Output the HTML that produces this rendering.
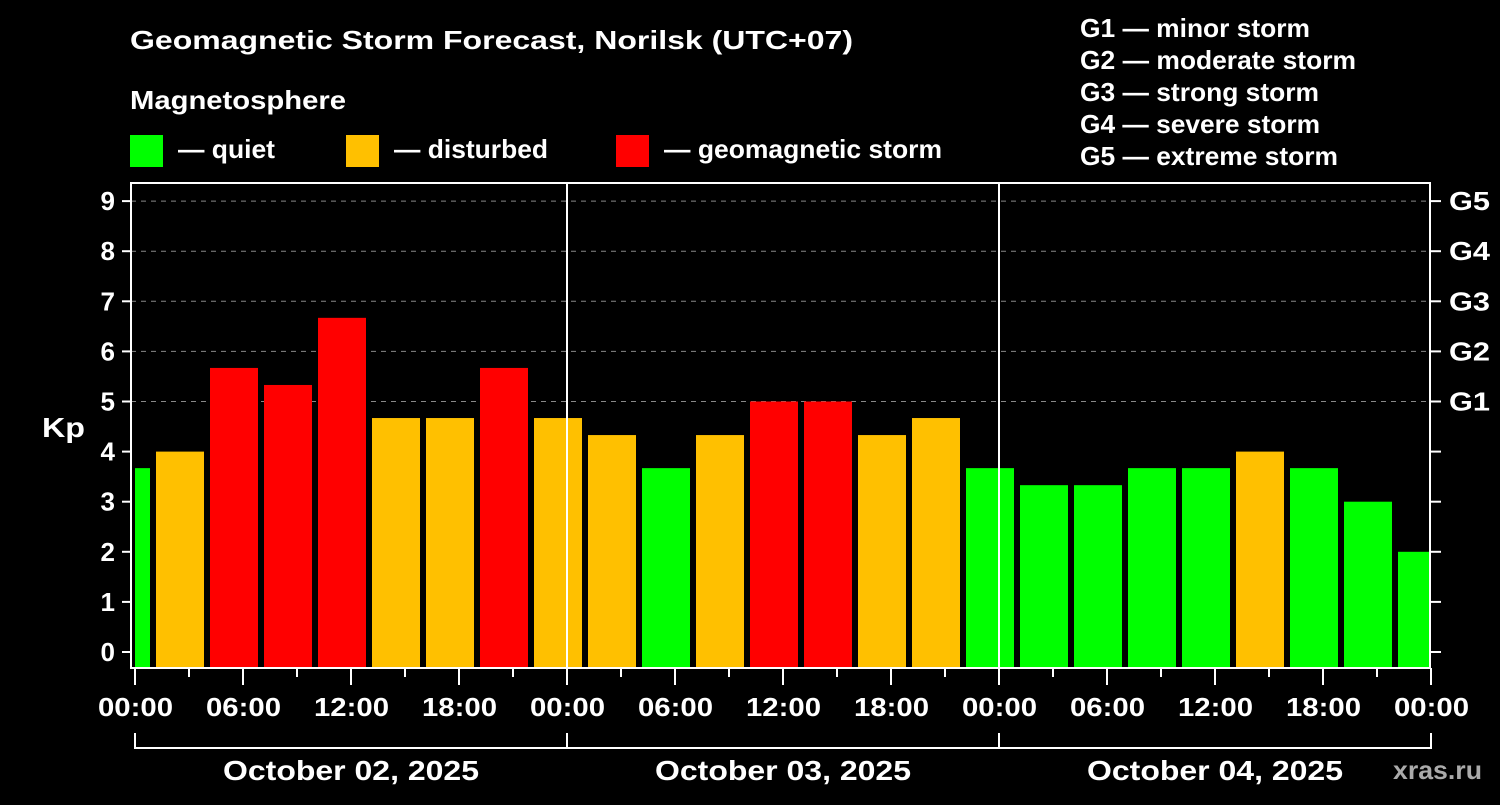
<!DOCTYPE html>
<html><head><meta charset="utf-8"><style>
html,body{margin:0;padding:0;background:#000;}
svg text{font-family:"Liberation Sans",sans-serif;font-weight:bold;fill:#fff;}
</style></head><body>
<svg id="c" width="1500" height="800" xmlns="http://www.w3.org/2000/svg">
<text x="130" y="49" font-size="26" textLength="723" lengthAdjust="spacingAndGlyphs">Geomagnetic Storm Forecast, Norilsk (UTC+07)</text>
<text x="130" y="109" font-size="26" textLength="216" lengthAdjust="spacingAndGlyphs">Magnetosphere</text>
<rect x="130" y="135" width="33" height="32" fill="#00ff00"/>
<text x="178" y="158" font-size="26" textLength="97" lengthAdjust="spacingAndGlyphs">— quiet</text>
<rect x="346" y="135" width="33" height="32" fill="#ffc000"/>
<text x="394" y="158" font-size="26" textLength="154" lengthAdjust="spacingAndGlyphs">— disturbed</text>
<rect x="616" y="135" width="33" height="32" fill="#ff0000"/>
<text x="664" y="158" font-size="26" textLength="278" lengthAdjust="spacingAndGlyphs">— geomagnetic storm</text>
<g font-size="26">
<text x="1080" y="37" textLength="230" lengthAdjust="spacingAndGlyphs">G1 — minor storm</text>
<text x="1080" y="69" textLength="276" lengthAdjust="spacingAndGlyphs">G2 — moderate storm</text>
<text x="1080" y="101" textLength="239" lengthAdjust="spacingAndGlyphs">G3 — strong storm</text>
<text x="1080" y="133" textLength="240" lengthAdjust="spacingAndGlyphs">G4 — severe storm</text>
<text x="1080" y="165" textLength="258" lengthAdjust="spacingAndGlyphs">G5 — extreme storm</text>
</g>
<text x="42" y="437" font-size="28" textLength="43" lengthAdjust="spacingAndGlyphs">Kp</text>
<text x="1393" y="779" font-size="26" textLength="89" lengthAdjust="spacingAndGlyphs" style="fill:#aaa">xras.ru</text>
<defs><clipPath id="pc"><rect x="135" y="183" width="1294" height="485"/></clipPath></defs>
<g id="grid"></g>
<g id="bars" clip-path="url(#pc)"></g>
<g id="axes"></g>
</svg>
<script>
const kpValues=[3.67,4,5.67,5.33,6.67,4.67,4.67,5.67,4.67,4.33,3.67,4.33,5,5,4.33,4.67,3.67,3.33,3.33,3.67,3.67,4,3.67,3,2];
const yTicks=[0,1,2,3,4,5,6,7,8,9];
const gLabels=["G1","G2","G3","G4","G5"];
const xTickLabels=["00:00","06:00","12:00","18:00","00:00","06:00","12:00","18:00","00:00","06:00","12:00","18:00","00:00"];
const dayLabels=["October 02, 2025","October 03, 2025","October 04, 2025"];
const firstBarStartHour=-2, barHours=3;
const NS="http://www.w3.org/2000/svg";
const X0=135,PXH=18,Y0=652,PXK=50.1;
const xs=h=>X0+h*PXH, ys=k=>Y0-k*PXK;
function mk(tag,attrs,parent,txt){const e=document.createElementNS(NS,tag);for(const k in attrs)e.setAttribute(k,attrs[k]);if(txt!==undefined)e.textContent=txt;parent.appendChild(e);return e;}
const grid=document.getElementById('grid'),bars=document.getElementById('bars'),axes=document.getElementById('axes');
yTicks.forEach(k=>{
  if(k>=5){const l=mk('line',{x1:131,x2:1430,y1:ys(k),y2:ys(k),stroke:'#888','stroke-width':1,'stroke-dasharray':'5,5'},grid);
  
  }
  const t=mk('line',{x1:122,x2:131,y1:ys(k),y2:ys(k),stroke:'#fff','stroke-width':2},axes);
  
  
  const r=mk('line',{x1:1430,x2:1441,y1:ys(k),y2:ys(k),stroke:'#fff','stroke-width':2},axes);
  
  
  const tl=mk('text',{x:115,y:ys(k)+9,'font-size':26,'text-anchor':'end'},axes,String(k));
  
  
  if(k>=5){const g=mk('text',{x:1449,y:ys(k)+9,'font-size':26,textLength:41,lengthAdjust:'spacingAndGlyphs'},axes,gLabels[k-5]);
  
  }
});
kpValues.forEach((v,i)=>{
  const h0=firstBarStartHour+i*barHours;
  const col=v>=5?'#ff0000':(v>=4?'#ffc000':'#00ff00');
  const b=mk('rect',{x:xs(h0)+3,y:ys(v),width:barHours*PXH-6,height:ys(-0.33)-ys(v),fill:col},bars);
  
  
});
[1,2].forEach(d=>{const l=mk('line',{x1:xs(d*24),x2:xs(d*24),y1:182,y2:668,stroke:'#fff','stroke-width':2},axes);
  
  });
const fr=mk('rect',{x:131,y:183,width:1299,height:485,fill:'none',stroke:'#fff','stroke-width':2},axes);


for(let h=0;h<=72;h+=3){const major=h%6===0;
  const t=mk('line',{x1:xs(h),x2:xs(h),y1:668,y2:major?685:677,stroke:'#fff','stroke-width':2},axes);
  
  }
xTickLabels.forEach((s,i)=>{const t=mk('text',{x:xs(i*6)-37,y:716,'font-size':26,textLength:75,lengthAdjust:'spacingAndGlyphs'},axes,s);
  
  });
const br=mk('path',{d:`M${xs(0)},733V748H${xs(72)}V733`,stroke:'#fff','stroke-width':2,fill:'none'},axes);


[24,48].forEach(h=>mk('line',{x1:xs(h),x2:xs(h),y1:733,y2:748,stroke:'#fff','stroke-width':2},axes));
dayLabels.forEach((s,i)=>{const t=mk('text',{x:xs(i*24+12)-128,y:780,'font-size':28,textLength:256,lengthAdjust:'spacingAndGlyphs'},axes,s);
  
  });
</script>
</body></html>
